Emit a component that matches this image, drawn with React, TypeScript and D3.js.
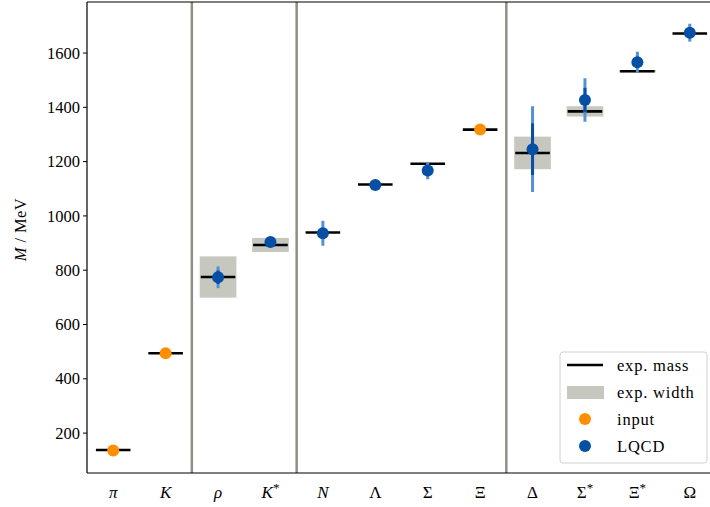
import React from 'react';
import * as d3 from 'd3';

// particle labels: symbol, italic?, starred?
const labels = ['π', 'K', 'ρ', 'K', 'N', 'Λ', 'Σ', 'Ξ', 'Δ', 'Σ', 'Ξ', 'Ω'];
const italicLabel = [true, true, true, true, true, false, false, false, false, false, false, false];
const starLabel = [false, false, false, true, false, false, false, false, false, true, true, false];

// experimental masses and widths (MeV)
const expMass = [138, 494, 775, 893, 939, 1116, 1192, 1318, 1232, 1385, 1533, 1672];
const expWidth = [0, 0, 152, 52, 0, 0, 0, 0, 120, 38, 9, 0];

// input masses (orange) and lattice results (blue)
const inputMass = [136, 494, null, null, null, null, null, 1318, null, null, null, null];
const lqcdMass = [null, null, 774, 904, 936, 1114, 1167, null, 1246, 1427, 1566, 1675];
const lqcdStatErr = [null, null, 25, 8, 15, 8, 15, null, 95, 45, 20, 15];
const lqcdTotErr = [null, null, 40, 12, 46, 10, 32, null, 158, 80, 39, 33];

const separators = [1.5, 3.5, 7.5];
const yTicks = [200, 400, 600, 800, 1000, 1200, 1400, 1600];
const legendLabels = ['exp. mass', 'exp. width', 'input', 'LQCD'];

const W = 710;
const H = 507;
const left = 87;
const right = 716;
const top = 2;
const bottom = 473;

const font = '"Liberation Serif", "DejaVu Serif", serif';
const orange = '#ff8f00';
const blue = '#0550a5';
const lightBlue = '#5690d4';
const grey = '#c6c7bf';

export default function App() {
  const x = d3.scaleLinear().domain([-0.5, 11.5]).range([left, right]);
  const y = d3.scaleLinear().domain([53, 1788]).range([bottom, top]);

  const idx = d3.range(labels.length);

  return (
    <svg
      width={W}
      height={H}
      style={{ position: 'absolute', left: 0, top: 0, background: '#fff' }}
      fontFamily={font}
    >
      <defs>
        <clipPath id="plot">
          <rect x={left} y={top} width={right - left} height={bottom - top} />
        </clipPath>
      </defs>
      <g clipPath="url(#plot)">
        {/* experimental widths */}
        {idx.filter(i => expWidth[i] > 0).map(i => (
          <rect
            key={'w' + i}
            x={x(i - 0.35)}
            width={x(0.35) - x(-0.35)}
            y={y(expMass[i] + expWidth[i] / 2)}
            height={y(expMass[i] - expWidth[i] / 2) - y(expMass[i] + expWidth[i] / 2)}
            fill={grey}
          />
        ))}
        {/* group separators */}
        {separators.map(s => (
          <line key={'s' + s} x1={x(s)} x2={x(s)} y1={top} y2={bottom} stroke="#8e8f85" strokeWidth={2.5} />
        ))}
        {/* experimental masses */}
        {idx.map(i => (
          <line
            key={'m' + i}
            x1={x(i - 0.33)}
            x2={x(i + 0.33)}
            y1={y(expMass[i])}
            y2={y(expMass[i])}
            stroke="#000"
            strokeWidth={2.6}
          />
        ))}
        {/* lattice error bars: total (light) and statistical (dark) */}
        {idx.filter(i => lqcdMass[i] != null).map(i => (
          <g key={'e' + i}>
            <line
              x1={x(i)}
              x2={x(i)}
              y1={y(lqcdMass[i]! + lqcdTotErr[i]!)}
              y2={y(lqcdMass[i]! - lqcdTotErr[i]!)}
              stroke={lightBlue}
              strokeWidth={3}
            />
            <line
              x1={x(i)}
              x2={x(i)}
              y1={y(lqcdMass[i]! + lqcdStatErr[i]!)}
              y2={y(lqcdMass[i]! - lqcdStatErr[i]!)}
              stroke={blue}
              strokeWidth={3}
            />
          </g>
        ))}
        {/* input points */}
        {idx.filter(i => inputMass[i] != null).map(i => (
          <circle key={'i' + i} cx={x(i)} cy={y(inputMass[i]!)} r={6} fill={orange} />
        ))}
        {/* lattice points */}
        {idx.filter(i => lqcdMass[i] != null).map(i => (
          <circle key={'l' + i} cx={x(i)} cy={y(lqcdMass[i]!)} r={6} fill={blue} />
        ))}
      </g>

      {/* spines */}
      <line x1={left} x2={left} y1={top} y2={bottom} stroke="#000" strokeWidth={1.2} />
      <line x1={left} x2={right} y1={bottom} y2={bottom} stroke="#000" strokeWidth={1.2} />
      <line x1={left} x2={right} y1={top} y2={top} stroke="#000" strokeWidth={1.2} />

      {/* y ticks */}
      {yTicks.map(t => (
        <g key={'t' + t}>
          <line x1={left - 4} x2={left} y1={y(t)} y2={y(t)} stroke="#000" strokeWidth={1} />
          <text x={left - 7} y={y(t)} dy="0.34em" textAnchor="end" fontSize={16.5} fill="#000">
            {t}
          </text>
        </g>
      ))}
      <text
        transform={`translate(26,${(top + bottom) / 2 - 8}) rotate(-90)`}
        textAnchor="middle"
        fontSize={16.5}
        letterSpacing={0.4}
        fill="#000"
      >
        <tspan fontStyle="italic">M</tspan> / MeV
      </text>

      {/* x labels */}
      {idx.map(i => (
        <text key={'x' + i} x={x(i)} y={498} textAnchor="middle" fontSize={17} fill="#000">
          <tspan fontStyle={italicLabel[i] ? 'italic' : 'normal'}>{labels[i]}</tspan>
          {starLabel[i] && (
            <tspan fontSize={13} dy={-6}>
              *
            </tspan>
          )}
        </text>
      ))}

      {/* legend */}
      <g transform="translate(560,352)">
        <rect x={0} y={0} width={147} height={111} rx={3} fill="#fff" fillOpacity={0.85} stroke="#d0d0d0" strokeWidth={1} />
        <line x1={7} x2={43} y1={13} y2={13} stroke="#000" strokeWidth={2.6} />
        <rect x={7} y={34} width={37} height={13} fill={grey} />
        <circle cx={25} cy={67} r={6} fill={orange} />
        <circle cx={25} cy={94} r={6} fill={blue} />
        {legendLabels.map((t, k) => (
          <text key={t} x={57} y={13 + k * 27} dy="0.34em" fontSize={16.5} letterSpacing={0.8} fill="#000">
            {t}
          </text>
        ))}
      </g>
    </svg>
  );
}
